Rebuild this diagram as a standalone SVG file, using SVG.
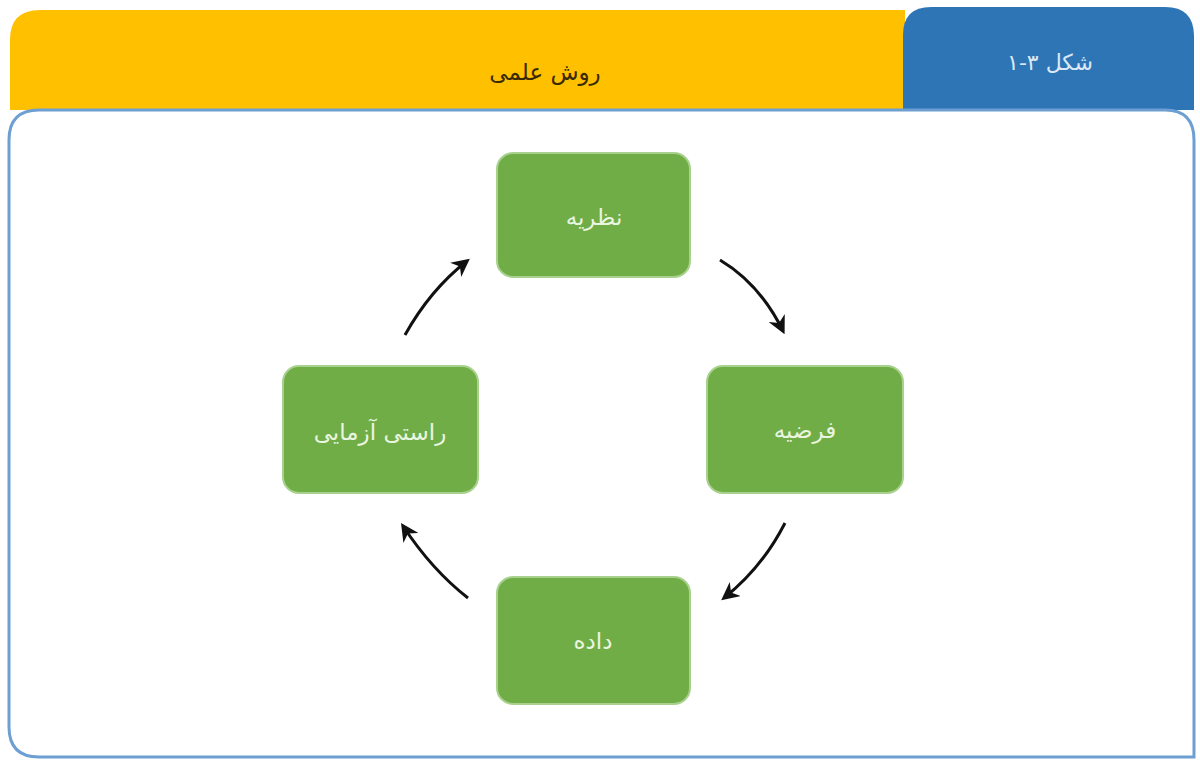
<svg xmlns="http://www.w3.org/2000/svg" width="1200" height="760" viewBox="0 0 1200 760">
<style>
.node rect{fill:#70ad47;stroke:#a9d18e;stroke-width:2}
.node text{fill:#eaf5e0;font-family:"DejaVu Sans",sans-serif;font-size:23px;text-anchor:middle;direction:rtl}
.conn path{fill:none;stroke:#111;stroke-width:3;marker-end:url(#ah)}
</style>
<defs>
<marker id="ah" viewBox="0 0 10 10" refX="8" refY="5" markerWidth="6" markerHeight="6" orient="auto" markerUnits="strokeWidth">
<path d="M0,0 L10,5 L0,10 L3,5 Z" fill="#111"/>
</marker>
</defs>
<rect x="0" y="0" width="1200" height="760" fill="#ffffff"/>
<g id="header">
<path d="M10,110 L10,40 Q10,10 40,10 L905,10 L905,110 Z" fill="#ffc000"/>
<text x="545" y="80" font-family="DejaVu Sans,sans-serif" font-size="23" fill="#3a2a00" text-anchor="middle" direction="rtl">روش علمی</text>
</g>
<g id="tab">
<path d="M903,110 L903,35 Q903,7 931,7 L1165,7 Q1194,7 1194,36 L1194,110 Z" fill="#2e75b6"/>
<text x="1050" y="70" font-family="DejaVu Sans,sans-serif" font-size="22" fill="#dbe8f6" text-anchor="middle" direction="rtl">شکل ۳-۱</text>
</g>
<g id="panel">
<path d="M9,140 Q9,110 39,110 L1165,110 Q1194,110 1194,140 L1194,757 L39,757 Q9,757 9,727 Z" fill="#ffffff" stroke="#6e9fd3" stroke-width="3"/>
</g>
<g id="n-theory" class="node">
<rect x="497" y="153" width="193" height="124" rx="16"/>
<text x="594" y="225">نظریه</text>
</g>
<g id="n-hypothesis" class="node">
<rect x="707" y="366" width="196" height="127" rx="16"/>
<text x="805" y="438">فرضیه</text>
</g>
<g id="n-data" class="node">
<rect x="497" y="577" width="193" height="127" rx="16"/>
<text x="593" y="649">داده</text>
</g>
<g id="n-verify" class="node">
<rect x="283" y="366" width="195" height="127" rx="16"/>
<text x="380" y="440">راستی آزمایی</text>
</g>
<g id="connectors" class="conn">
<path d="M405,335 Q430,290 467,261"/>
<path d="M720,260 Q760,284 783,331"/>
<path d="M785,523 Q762,568 724,598"/>
<path d="M468,598 Q432,570 403,526"/>
</g>
</svg>
